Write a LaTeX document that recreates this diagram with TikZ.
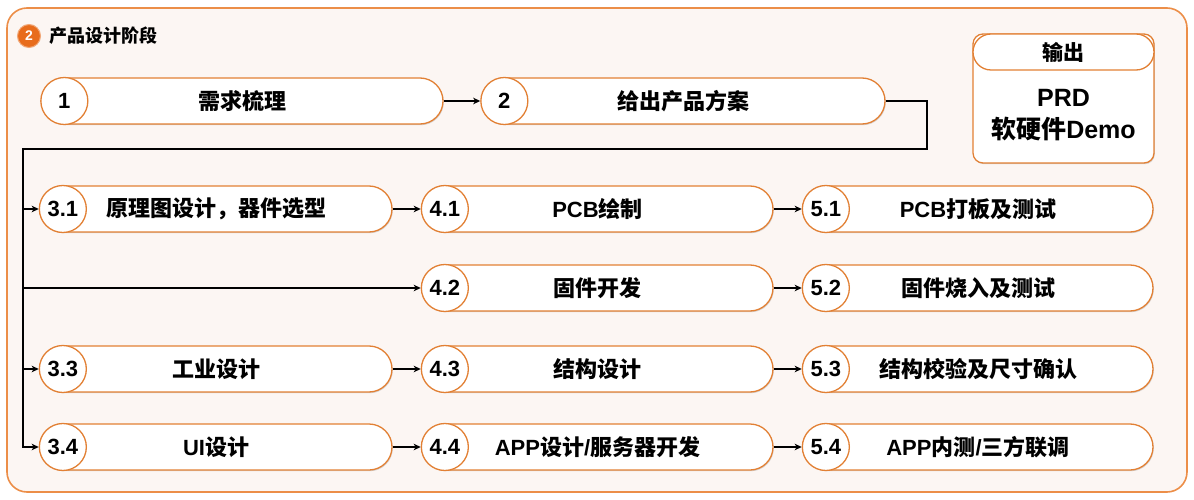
\documentclass[tikz,border=0pt]{standalone}
\usepackage{fontspec}
\setmainfont{Noto Sans CJK SC}
\newfontfamily\lat{Liberation Sans}
\usetikzlibrary{arrows.meta,shadows,calc}
\definecolor{pillc}{RGB}{226,128,52}
\definecolor{framec}{RGB}{236,142,72}
\definecolor{bgc}{RGB}{252,246,243}
\definecolor{badgec}{RGB}{232,108,28}
\tikzset{
  frame/.style={draw=framec, line width=1.6pt, fill=bgc, rounded corners=20pt, minimum width=1180pt, minimum height=484pt, inner sep=0pt},
  pill/.style={draw=pillc, line width=1.3pt, fill=white, rounded corners=23pt, minimum height=46pt, inner sep=0pt,
    font=\bfseries\fontsize{22pt}{24pt}\selectfont,
    drop shadow={shadow xshift=0.8pt, shadow yshift=-1.2pt, opacity=0.15, fill=black}},
  num/.style={circle, draw=pillc, line width=1.3pt, fill=white, minimum size=47pt, inner sep=0pt,
    font=\lat\bfseries\fontsize{22pt}{22pt}\selectfont},
  conn/.style={draw=black, line width=1.3pt, -{Stealth[length=7pt,width=6.5pt,inset=2pt]}},
  boxbody/.style={draw=pillc, line width=1.3pt, fill=white, rounded corners=10pt, minimum width=181pt, minimum height=129pt, inner sep=0pt,
    drop shadow={shadow xshift=0.8pt, shadow yshift=-1.2pt, opacity=0.15, fill=black}},
  boxhead/.style={draw=pillc, line width=1.3pt, fill=white, rounded corners=18pt, minimum width=181pt, minimum height=36pt, inner sep=0pt,
    font=\bfseries\fontsize{21pt}{22pt}\selectfont},
}
\begin{document}
\begin{tikzpicture}[x=1pt,y=-1pt]
\useasboundingbox (0,0) rectangle (1194,500);
\node[frame] (frame) at (597,250) {};
% title
\node[circle, fill=badgec, draw=badgec!60, line width=1pt, minimum size=23pt, inner sep=0pt, text=white, font=\lat\bfseries\fontsize{14pt}{14pt}\selectfont] (badge) at (29,36) {2};
\node[anchor=west, inner sep=2pt, font=\bfseries\fontsize{18pt}{19pt}\selectfont] (title) at (47,36) {产品设计阶段};
% output box
\node[boxbody] (outb) at (1063.5,98.5) {};
\node[boxhead] (outh) at (1063.5,52) {输出};
\node[align=center, inner sep=0pt, font=\bfseries\fontsize{25pt}{32pt}\selectfont] (outt) at (1063.5,115) {{\lat PRD}\\软硬件{\lat Demo}};
% row 1
\node[pill, minimum width=401pt] (p1) at (242.5,101) {需求梳理};
\node[num] (c1) at ([xshift=23pt]p1.west) {1};
\node[pill, minimum width=403pt] (p2) at (683.5,101) {给出产品方案};
\node[num] (c2) at ([xshift=23pt]p2.west) {2};
% column 3
\node[pill, minimum width=352pt] (p31) at (216,209) {原理图设计，器件选型};
\node[num] (c31) at ([xshift=23.5pt]p31.west) {3.1};
\node[pill, minimum width=352pt] (p33) at (216,369) {工业设计};
\node[num] (c33) at ([xshift=23.5pt]p33.west) {3.3};
\node[pill, minimum width=352pt] (p34) at (216,447) {{\lat UI}设计};
\node[num] (c34) at ([xshift=23.5pt]p34.west) {3.4};
% column 4
\node[pill, minimum width=351pt] (p41) at (597.5,209) {{\lat PCB}绘制};
\node[num] (c41) at ([xshift=23.5pt]p41.west) {4.1};
\node[pill, minimum width=351pt] (p42) at (597.5,288) {固件开发};
\node[num] (c42) at ([xshift=23.5pt]p42.west) {4.2};
\node[pill, minimum width=351pt] (p43) at (597.5,369) {结构设计};
\node[num] (c43) at ([xshift=23.5pt]p43.west) {4.3};
\node[pill, minimum width=351pt] (p44) at (597.5,447) {{\lat APP}设计{\lat /}服务器开发};
\node[num] (c44) at ([xshift=23.5pt]p44.west) {4.4};
% column 5
\node[pill, minimum width=350pt] (p51) at (978,209) {{\lat PCB}打板及测试};
\node[num] (c51) at ([xshift=23.5pt]p51.west) {5.1};
\node[pill, minimum width=350pt] (p52) at (978,288) {固件烧入及测试};
\node[num] (c52) at ([xshift=23.5pt]p52.west) {5.2};
\node[pill, minimum width=350pt] (p53) at (978,369) {结构校验及尺寸确认};
\node[num] (c53) at ([xshift=23.5pt]p53.west) {5.3};
\node[pill, minimum width=350pt] (p54) at (978,447) {{\lat APP}内测{\lat /}三方联调};
\node[num] (c54) at ([xshift=23.5pt]p54.west) {5.4};
% connectors
\coordinate (t1) at (927,149);
\coordinate (t2) at (23,149);
\draw[conn] (p1.east) -- (c2.west);
\draw[conn] (p2.east) -| (t1) -- (t2) |- (c34.west);
\draw[conn] (t2 |- c31.west) -- (c31.west);
\draw[conn] (t2 |- c42.west) -- (c42.west);
\draw[conn] (t2 |- c33.west) -- (c33.west);
\draw[conn] (p31.east) -- (c41.west);
\draw[conn] (p33.east) -- (c43.west);
\draw[conn] (p34.east) -- (c44.west);
\draw[conn] (p41.east) -- (c51.west);
\draw[conn] (p42.east) -- (c52.west);
\draw[conn] (p43.east) -- (c53.west);
\draw[conn] (p44.east) -- (c54.west);
\end{tikzpicture}
\end{document}
